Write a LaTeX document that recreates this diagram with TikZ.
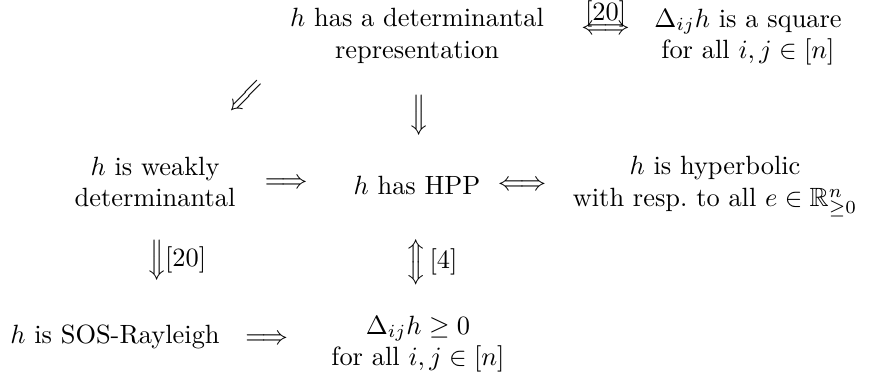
\documentclass[tikz,border=0pt]{standalone}
\usepackage{amsmath,amssymb}
\begin{document}
\begin{tikzpicture}[x=0.3788pt,y=-0.3788pt,
  txt/.style={inner sep=0pt,align=center},
  sym/.style={inner sep=0pt},
  ref/.style={inner sep=0pt,anchor=west}]
\useasboundingbox (0,0) rectangle (869,374);
% statements
\node[txt] (top) at (417,36) {$h$ has a determinantal\\representation};
\node[txt] (sq)  at (748,37) {$\Delta_{ij}h$ is a square\\for all $i,j\in[n]$};
\node[txt] (weak) at (155,182) {$h$ is weakly\\determinantal};
\node[txt] (hpp) at (417,185) {$h$ has HPP};
\node[txt] (hyp) at (715,187) {$h$ is hyperbolic\\with resp.\ to all $e\in\mathbb{R}^n_{\geq 0}$};
\node[txt] (sos) at (115,337) {$h$ is SOS-Rayleigh};
\node[txt] (dge) at (418,344) {$\Delta_{ij}h\geq 0$\\for all $i,j\in[n]$};
% implications
\path (top.east) -- node[sym,pos=0.56,yshift=2.5pt] (e1) {$\Longleftrightarrow$} (sq.west);
\node[inner sep=0pt,anchor=base] at ([yshift=3.6pt]e1.center) {[20]};
\path (top.south west) -- node[sym,pos=0.34,rotate=225] (e2) {$\Longrightarrow$} (weak.north);
\path (top) -- node[sym,pos=0.46,rotate=-90] (e3) {$\Longrightarrow$} (hpp);
\path (weak.east) -- node[sym,pos=0.43] (e4) {$\Longrightarrow$} (hpp.west);
\path (hpp.east) -- node[sym,pos=0.45] (e5) {$\Longleftrightarrow$} (hyp.west);
\path (weak.south) -- node[sym,pos=0.45,rotate=-90] (e6) {$\Longrightarrow$} (weak.south |- sos.north);
\node[ref] at ([xshift=3.6pt]e6.center) {[20]};
\path (hpp) -- node[sym,pos=0.56,rotate=90] (e7) {$\Longleftrightarrow$} (dge);
\node[ref] at ([xshift=4.4pt]e7.center) {[4]};
\path (sos.east) -- node[sym,pos=0.42] (e8) {$\Longrightarrow$} (dge.west);
\end{tikzpicture}
\end{document}
